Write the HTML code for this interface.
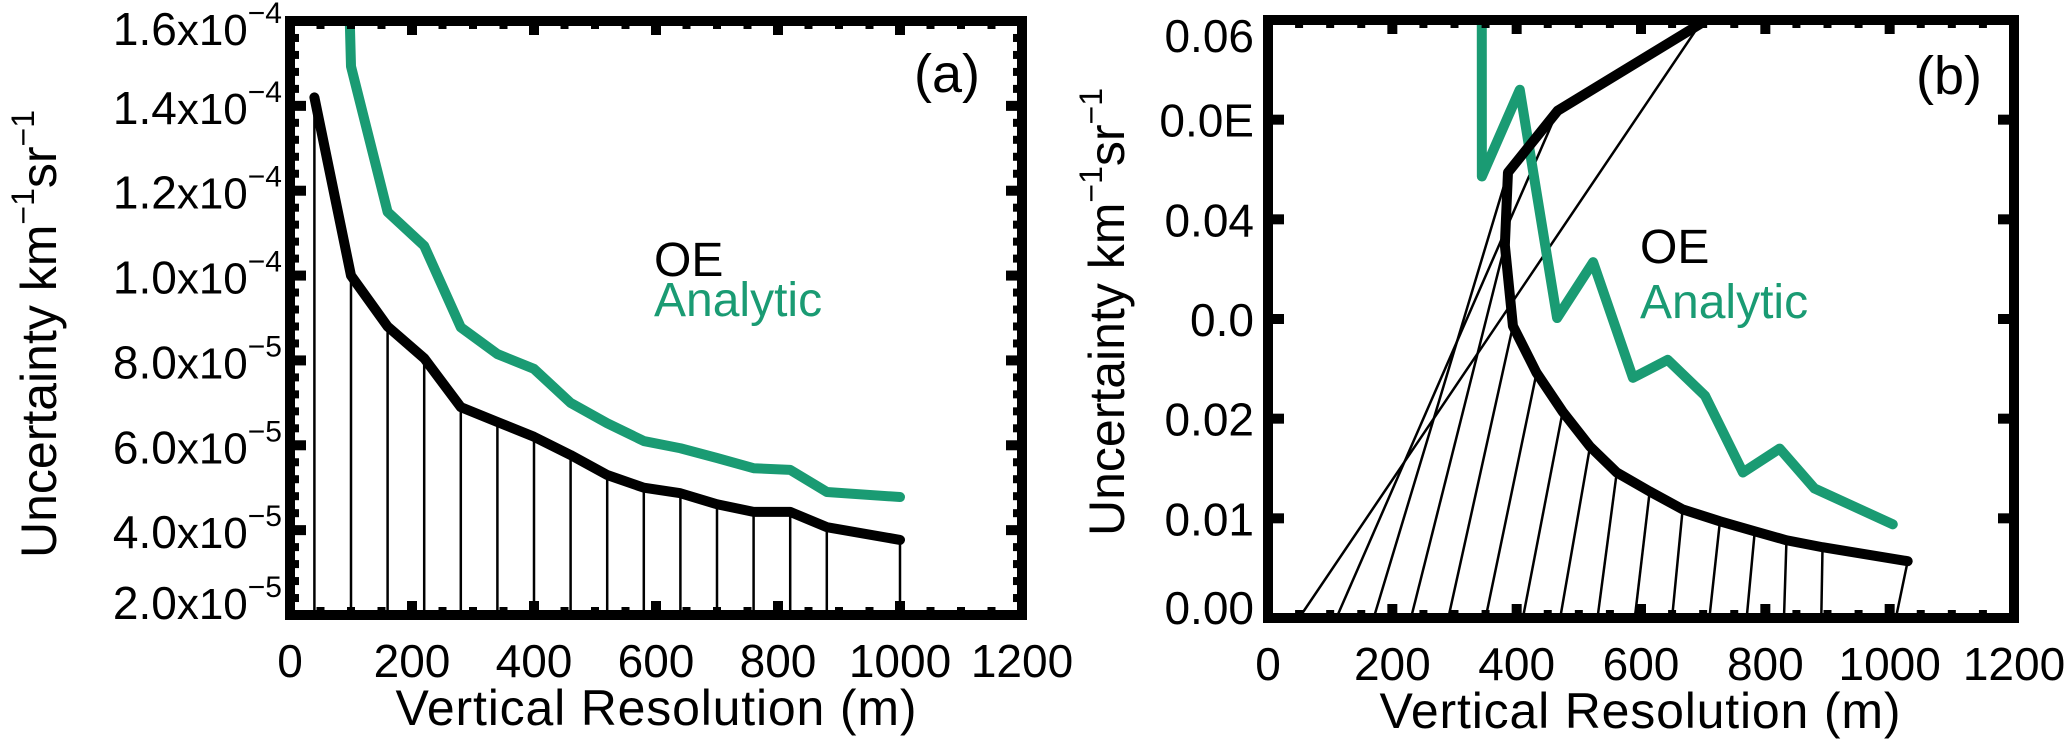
<!DOCTYPE html>
<html><head><meta charset="utf-8"><style>
html,body{margin:0;padding:0;background:#fff;}
svg{display:block;font-family:"Liberation Sans",sans-serif;}
</style></head><body>
<svg id="chart" width="2067" height="743" viewBox="0 0 2067 743" xmlns="http://www.w3.org/2000/svg">
<defs>
<clipPath id="clipA"><rect x="290" y="21" width="732" height="594"/></clipPath>
<clipPath id="clipB"><rect x="1268" y="20" width="746" height="598"/></clipPath>
</defs>
<g id="panelA"></g>
<g id="panelB"></g>
</svg>
<script>
// ---- Panel (a) data ----
const aX = [40,100,160,220,280,340,400,460,520,580,640,700,760,820,880,1000];
const aOE = [14.2,10.0,8.8,8.05,6.9,6.55,6.2,5.77,5.3,5.0,4.87,4.61,4.43,4.43,4.07,3.77];
const aAnX = [40,100,160,220,280,340,400,460,520,580,640,700,760,820,880,1000];
const aAn = [47,14.93,11.5,10.7,8.78,8.15,7.8,7.0,6.52,6.1,5.93,5.7,5.46,5.42,4.9,4.78];
const aXTicks = [0,200,400,600,800,1000,1200];
const aYTicks = [2,4,6,8,10,12,14,16];
const aYLabels = ["2.0","4.0","6.0","8.0","1.0","1.2","1.4","1.6"];
const aYExp = ["−5","−5","−5","−5","−4","−4","−4","−4"];
// ---- Panel (b) data ----
const bResX = [50,110,170,230,290,350,410,470,530,590,650,710,770,830,890,1010];
const bCurveX = [695,466,386,381,394,432,474,518,561,614,667,727,783,834,892,1029];
const bCurveY = [0.0596,0.0509,0.0447,0.0374,0.0293,0.0246,0.0207,0.0172,0.0146,0.0127,0.0109,0.0097,0.0087,0.0078,0.0071,0.0057];
const bAnX = [343,344,405,465,523,587,643,703,764,823,879,1005];
const bAn = [0.2,0.0443,0.053,0.0301,0.0357,0.0241,0.0259,0.0223,0.0146,0.017,0.013,0.0094];
const bXTicks = [0,200,400,600,800,1000,1200];
const bYTicks = [0,0.01,0.02,0.03,0.04,0.05,0.06];
const bYLabels = ["0.00","0.01","0.02","0.0","0.04","0.0E","0.06"];

const NS="http://www.w3.org/2000/svg";
const GREEN="#1a9b73";
function mk(tag,attrs,parent){const e=document.createElementNS(NS,tag);for(const k in attrs)e.setAttribute(k,attrs[k]);parent.appendChild(e);return e;}

const ax={x0:290,x1:1022,y0:615,y1:21};
const axX=v=>ax.x0+(v-0)/1200*(ax.x1-ax.x0);
const axY=v=>ax.y0-(v-2)/14*(ax.y0-ax.y1);
const bx={x0:1268,x1:2014,y0:618,y1:20};
const bxX=v=>bx.x0+v/1200*(bx.x1-bx.x0);
const bxY=v=>bx.y0-v/0.06*(bx.y0-bx.y1);

function frame(g,b,yMinorCount,yMajors){
  for(let v=0;v<=1200;v+=50){
    const X=b.x0+v/1200*(b.x1-b.x0);
    const major=v%200===0;
    const L=major?14:8, W=major?10:8;
    for(const side of [0,1]){
      const r=mk('rect',{x:X-W/2,y:side?b.y0-L:b.y1,width:W,height:L,fill:'#000'},g);
      
      
    }
  }
  yMajors.forEach((Y,i)=>{
    for(const side of [0,1]){
      const r=mk('rect',{x:side?b.x1-16:b.x0,y:Y-5,width:16,height:10,fill:'#000'},g);
      
      
    }
    if(yMinorCount>0 && i<yMajors.length-1){
      const n=yMinorCount+1, step=(yMajors[i+1]-Y)/n;
      for(let k=1;k<n;k++){
        for(const side of [0,1]){
          const r=mk('rect',{x:side?b.x1-9:b.x0,y:Y+k*step-4,width:9,height:8,fill:'#000'},g);
          
          
        }
      }
    }
  });
  const f=mk('rect',{x:b.x0,y:b.y1,width:b.x1-b.x0,height:b.y0-b.y1,fill:'none',stroke:'#000','stroke-width':10},g);
  
  
}

// ---------- Panel A ----------
const gA=document.getElementById('panelA');
const cA=mk('g',{'clip-path':'url(#clipA)'},gA);


aX.forEach((x,i)=>{
  const l=mk('line',{x1:axX(x),y1:axY(aOE[i]),x2:axX(x),y2:ax.y0,stroke:'#000','stroke-width':2.5},cA);
  
  
});
let pA=mk('polyline',{points:aAnX.map((x,i)=>axX(x)+','+axY(aAn[i])).join(' '),fill:'none',stroke:GREEN,'stroke-width':10,'stroke-linejoin':'round','stroke-linecap':'round'},cA);


let oA=mk('polyline',{points:aX.map((x,i)=>axX(x)+','+axY(aOE[i])).join(' '),fill:'none',stroke:'#000','stroke-width':10,'stroke-linejoin':'round','stroke-linecap':'round'},cA);


frame(gA,ax,4,aYTicks.map(axY));
aXTicks.forEach(v=>{
  const t=mk('text',{x:axX(v),y:677,'font-size':46,'text-anchor':'middle'},gA);t.textContent=v;
  
  
});
aYTicks.forEach((v,i)=>{
  const t=mk('text',{x:282,y:axY(v)+(i===7?24:i===0?4:18),'font-size':46,'text-anchor':'end'},gA);
  
  
  const a=mk('tspan',{},t);a.textContent=aYLabels[i];
  const b=mk('tspan',{'font-size':44},t);b.textContent='x10';
  const c=mk('tspan',{'font-size':30,dy:-22},t);c.textContent=aYExp[i];
});
{
 const t=mk('text',{x:0,y:0,'font-size':50,'text-anchor':'middle',transform:'translate(56,334) rotate(-90)'},gA);
 
 
 t.innerHTML='Uncertainty km<tspan font-size="32" dy="-22">−1</tspan><tspan dy="22">sr</tspan><tspan font-size="32" dy="-22">−1</tspan>';
 const x=mk('text',{x:656,y:725,'font-size':50,'text-anchor':'middle',textLength:521},gA);
 x.textContent='Vertical Resolution (m)';
 
 
 const l1=mk('text',{x:654,y:276,'font-size':48},gA);l1.textContent='OE';
 
 
 const l2=mk('text',{x:654,y:316,'font-size':48,fill:GREEN},gA);l2.textContent='Analytic';
 
 
 const p=mk('text',{x:914,y:92,'font-size':54},gA);p.textContent='(a)';
 
 
}

// ---------- Panel B ----------
const gB=document.getElementById('panelB');
const cB=mk('g',{'clip-path':'url(#clipB)'},gB);


bResX.forEach((x,i)=>{
  const l=mk('line',{x1:bxX(x),y1:bx.y0,x2:bxX(bCurveX[i]),y2:bxY(bCurveY[i]),stroke:'#000','stroke-width':2.5},cB);
  
  
});
let pB=mk('polyline',{points:bAnX.map((x,i)=>bxX(x)+','+bxY(bAn[i])).join(' '),fill:'none',stroke:GREEN,'stroke-width':10,'stroke-linejoin':'round','stroke-linecap':'round'},cB);


let oB=mk('polyline',{points:bCurveX.map((x,i)=>bxX(x)+','+bxY(bCurveY[i])).join(' '),fill:'none',stroke:'#000','stroke-width':10,'stroke-linejoin':'round','stroke-linecap':'round'},cB);


frame(gB,bx,0,bYTicks.map(bxY));
bXTicks.forEach(v=>{
  const t=mk('text',{x:bxX(v),y:680,'font-size':46,'text-anchor':'middle'},gB);t.textContent=v;
  
  
});
bYTicks.forEach((v,i)=>{
  const t=mk('text',{x:1254,y:bxY(v)+(i===6?32:i===0?6:17),'font-size':46,'text-anchor':'end'},gB);
  t.textContent=bYLabels[i];
  
  
});
{
 const t=mk('text',{x:0,y:0,'font-size':50,'text-anchor':'middle',transform:'translate(1124,312) rotate(-90)'},gB);
 
 
 t.innerHTML='Uncertainty km<tspan font-size="32" dy="-22">−1</tspan><tspan dy="22">sr</tspan><tspan font-size="32" dy="-22">−1</tspan>';
 const x=mk('text',{x:1640,y:728,'font-size':50,'text-anchor':'middle',textLength:521},gB);
 x.textContent='Vertical Resolution (m)';
 
 
 const l1=mk('text',{x:1640,y:263,'font-size':48},gB);l1.textContent='OE';
 
 
 const l2=mk('text',{x:1640,y:318,'font-size':48,fill:GREEN},gB);l2.textContent='Analytic';
 
 
 const p=mk('text',{x:1916,y:94,'font-size':54},gB);p.textContent='(b)';
 
 
}
</script>
</body></html>
